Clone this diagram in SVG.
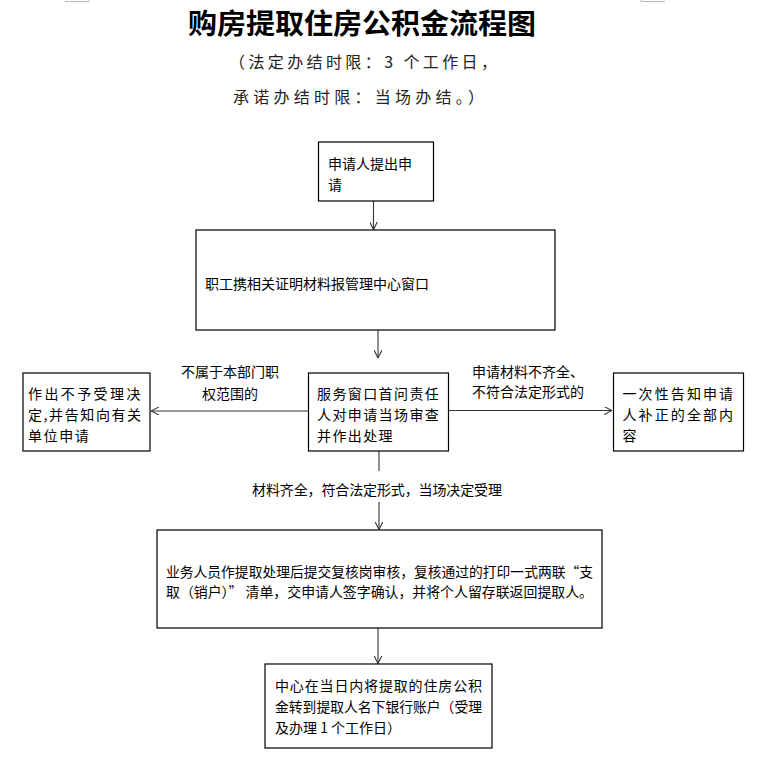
<svg xmlns="http://www.w3.org/2000/svg" width="758" height="765" viewBox="0 0 758 765">
<style>
text{font-family:"Noto Sans CJK SC","Noto Sans",sans-serif;fill:#000;font-size:14px}
.box{fill:#fff;stroke:#000;stroke-width:1.2}
.ln{stroke:#333;stroke-width:1.1;fill:none}
.title{font-size:28px;font-weight:bold}
.sub{font-size:16px;fill:#222}
.mark{stroke:#bbb;stroke-width:1;fill:none}
</style>
<defs>
<marker id="arr" viewBox="0 0 8 8" markerWidth="8" markerHeight="8" refX="8" refY="4" orient="auto" markerUnits="userSpaceOnUse">
<path d="M0,0 L8,4 L0,8" fill="none" stroke="#333" stroke-width="1.1"/>
</marker>
</defs>
<rect width="758" height="765" fill="#fff"/>
<g id="page-marks">
<path class="mark" d="M65,1.5 H89 V0"/>
<path class="mark" d="M665,1.5 H641 V0"/>
</g>
<g id="header">
<text class="title" x="188" y="33.5" textLength="348" lengthAdjust="spacingAndGlyphs">购房提取住房公积金流程图</text>
<text class="sub" x="229" y="67.5" textLength="268" lengthAdjust="spacing">（法定办结时限：3 个工作日，</text>
<text class="sub" x="233" y="102.5" textLength="251" lengthAdjust="spacing">承诺办结时限：当场办结。）</text>
</g>
<g id="connectors">
<line class="ln" x1="373.5" y1="201" x2="373.5" y2="229.5" marker-end="url(#arr)"/>
<line class="ln" x1="378" y1="330" x2="378" y2="358" marker-end="url(#arr)"/>
<line class="ln" x1="308" y1="411" x2="151" y2="411" marker-end="url(#arr)"/>
<line class="ln" x1="448" y1="410.5" x2="612" y2="410.5" marker-end="url(#arr)"/>
<line class="ln" x1="379" y1="451" x2="379" y2="471"/>
<line class="ln" x1="379" y1="502" x2="379" y2="529.5" marker-end="url(#arr)"/>
<line class="ln" x1="378" y1="628" x2="378" y2="663.5" marker-end="url(#arr)"/>
<text x="230" y="377" text-anchor="middle">不属于本部门职</text>
<text x="230" y="398.5" text-anchor="middle">权范围的</text>
<text x="472" y="377">申请材料不齐全、</text>
<text x="472" y="397">不符合法定形式的</text>
<text x="252" y="495" textLength="250" lengthAdjust="spacing">材料齐全，符合法定形式，当场决定受理</text>
</g>
<g id="n1">
<rect class="box" x="318.5" y="142" width="115" height="59"/>
<text x="328" y="168.5">申请人提出申</text>
<text x="328" y="190">请</text>
</g>
<g id="n2">
<rect class="box" x="196" y="230" width="359" height="100"/>
<text x="205" y="288.5">职工携相关证明材料报管理中心窗口</text>
</g>
<g id="n3">
<rect class="box" x="308.5" y="373" width="140" height="78"/>
<text x="317" y="398.5" letter-spacing="1.4">服务窗口首问责任</text>
<text x="317" y="420" letter-spacing="1.4">人对申请当场审查</text>
<text x="317" y="440.5" letter-spacing="1.4">并作出处理</text>
</g>
<g id="n4">
<rect class="box" x="23" y="373" width="127" height="78"/>
<text x="28" y="398.5" letter-spacing="2.4">作出不予受理决</text>
<text x="28" y="420" letter-spacing="1.6">定,并告知向有关</text>
<text x="28" y="440.5" letter-spacing="1.6">单位申请</text>
</g>
<g id="n5">
<rect class="box" x="613.5" y="373" width="130" height="78"/>
<text x="622.5" y="398.5" letter-spacing="2.1">一次性告知申请</text>
<text x="622.5" y="420" letter-spacing="2.1">人补正的全部内</text>
<text x="622.5" y="440.5" letter-spacing="2.1">容</text>
</g>
<g id="n6">
<rect class="box" x="157" y="530" width="445" height="98"/>
<text x="166" y="577" textLength="427" lengthAdjust="spacingAndGlyphs">业务人员作提取处理后提交复核岗审核，复核通过的打印一式两联“支</text>
<text x="166" y="597" textLength="427" lengthAdjust="spacingAndGlyphs">取（销户）” 清单，交申请人签字确认，并将个人留存联返回提取人。</text>
</g>
<g id="n7">
<rect class="box" x="265" y="664" width="227" height="84"/>
<text x="275" y="690.5" textLength="207" lengthAdjust="spacing">中心在当日内将提取的住房公积</text>
<text x="275" y="712" textLength="207" lengthAdjust="spacingAndGlyphs">金转到提取人名下银行账户（受理</text>
<text x="275" y="732.5">及办理 1 个工作日）</text>
</g>
</svg>
